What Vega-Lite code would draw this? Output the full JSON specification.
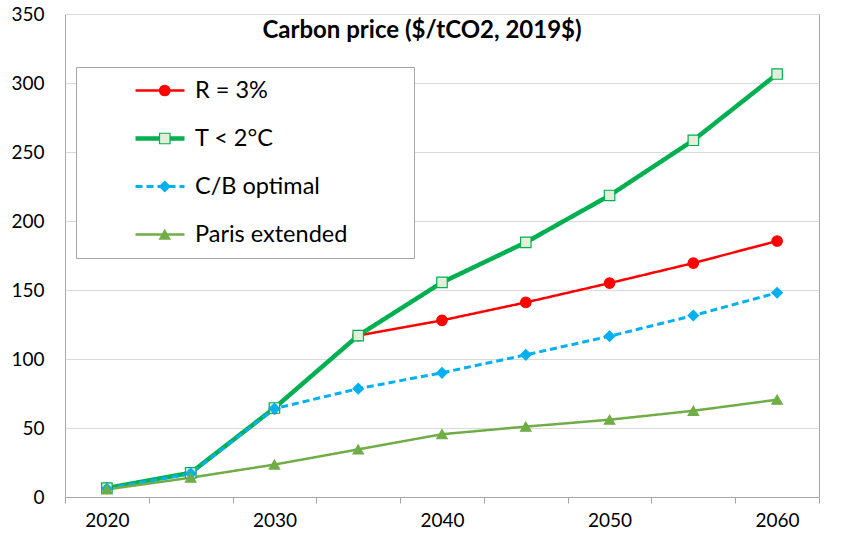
{
  "$schema": "https://vega.github.io/schema/vega-lite/v6.json",
  "width": 754,
  "height": 483,
  "autosize": "none",
  "padding": {"left": 65, "top": 14, "right": 25, "bottom": 45},
  "background": "white",
  "config": {
    "font": "Lato",
    "view": {"stroke": "#A6A6A6", "strokeWidth": 1},
    "axis": {"labelFont": "Lato", "labelFontSize": 19, "labelColor": "#000000"}
  },
  "title": {
    "text": "Carbon price ($/tCO2, 2019$)",
    "font": "Lato",
    "fontSize": 24,
    "fontWeight": "bold",
    "color": "#000000",
    "anchor": "middle",
    "offset": -25,
    "dx": -20,
    "dy": 32,
    "baseline": "alphabetic"
  },
  "data": {
    "values": [
      {"series": "R = 3%", "year": 2020, "price": 6.5},
      {"series": "R = 3%", "year": 2025, "price": 17.5},
      {"series": "R = 3%", "year": 2030, "price": 64},
      {"series": "R = 3%", "year": 2035, "price": 117},
      {"series": "R = 3%", "year": 2040, "price": 128},
      {"series": "R = 3%", "year": 2045, "price": 141},
      {"series": "R = 3%", "year": 2050, "price": 155},
      {"series": "R = 3%", "year": 2055, "price": 169.5},
      {"series": "R = 3%", "year": 2060, "price": 185.5},
      {"series": "T < 2°C", "year": 2020, "price": 6.5},
      {"series": "T < 2°C", "year": 2025, "price": 17.5},
      {"series": "T < 2°C", "year": 2030, "price": 64.5},
      {"series": "T < 2°C", "year": 2035, "price": 117},
      {"series": "T < 2°C", "year": 2040, "price": 155.5},
      {"series": "T < 2°C", "year": 2045, "price": 184.5},
      {"series": "T < 2°C", "year": 2050, "price": 218.5},
      {"series": "T < 2°C", "year": 2055, "price": 258.5},
      {"series": "T < 2°C", "year": 2060, "price": 306.5},
      {"series": "C/B optimal", "year": 2020, "price": 6},
      {"series": "C/B optimal", "year": 2025, "price": 17},
      {"series": "C/B optimal", "year": 2030, "price": 64},
      {"series": "C/B optimal", "year": 2035, "price": 78.5},
      {"series": "C/B optimal", "year": 2040, "price": 90},
      {"series": "C/B optimal", "year": 2045, "price": 103},
      {"series": "C/B optimal", "year": 2050, "price": 116.5},
      {"series": "C/B optimal", "year": 2055, "price": 131.5},
      {"series": "C/B optimal", "year": 2060, "price": 148},
      {"series": "Paris extended", "year": 2020, "price": 5.5},
      {"series": "Paris extended", "year": 2025, "price": 14},
      {"series": "Paris extended", "year": 2030, "price": 23.5},
      {"series": "Paris extended", "year": 2035, "price": 34.5},
      {"series": "Paris extended", "year": 2040, "price": 45.5},
      {"series": "Paris extended", "year": 2045, "price": 51},
      {"series": "Paris extended", "year": 2050, "price": 56},
      {"series": "Paris extended", "year": 2055, "price": 62.5},
      {"series": "Paris extended", "year": 2060, "price": 70.5}
    ]
  },
  "layer": [
    {
      "mark": {"type": "line"},
      "encoding": {
        "x": {
          "field": "year",
          "type": "ordinal",
          "scale": {"type": "band", "paddingInner": 0, "paddingOuter": 0},
          "axis": {
            "title": null,
            "labelAngle": 0,
            "tickBand": "extent",
            "grid": false,
            "domain": true,
            "domainColor": "#A6A6A6",
            "tickColor": "#A6A6A6",
            "tickSize": 6,
            "labelPadding": 8,
            "labelExpr": "datum.value % 10 == 0 ? datum.label : ''"
          }
        },
        "y": {
          "field": "price",
          "type": "quantitative",
          "scale": {"domain": [0, 350], "nice": false},
          "axis": {
            "title": null,
            "values": [0, 50, 100, 150, 200, 250, 300, 350],
            "grid": true,
            "gridColor": "#D9D9D9",
            "domain": false,
            "ticks": false,
            "labelPadding": 21
          }
        },
        "color": {
          "field": "series",
          "type": "nominal",
          "scale": {
            "domain": ["R = 3%", "T < 2°C", "C/B optimal", "Paris extended"],
            "range": ["#FF0000", "#00B050", "#00B0F0", "#70AD47"]
          },
          "legend": {
            "orient": "none",
            "legendX": 11,
            "legendY": 53,
            "title": null,
            "symbolType": "stroke",
            "symbolSize": 2401,
            "symbolOffset": 45,
            "labelOffset": 8,
            "labelFont": "Lato",
            "labelFontSize": 23.5,
            "labelColor": "#000000",
            "labelLimit": 400,
            "rowPadding": 24,
            "clipHeight": 23,
            "padding": 12,
            "strokeColor": "#A6A6A6",
            "fillColor": "white",
            "labelExpr": "datum.label + '\u2800\u2800\u2800'"
          }
        },
        "strokeDash": {
          "field": "series",
          "type": "nominal",
          "scale": {
            "domain": ["R = 3%", "T < 2°C", "C/B optimal", "Paris extended"],
            "range": [[1, 0], [1, 0], [7, 4], [1, 0]]
          }
        },
        "strokeWidth": {
          "field": "series",
          "type": "ordinal",
          "scale": {
            "type": "ordinal",
            "domain": ["R = 3%", "T < 2°C", "C/B optimal", "Paris extended"],
            "range": [2.5, 4.5, 3, 2.5]
          }
        }
      }
    },
    {
      "mark": {"type": "point", "filled": false, "opacity": 1, "strokeWidth": 1.2, "size": 110},
      "encoding": {
        "x": {"field": "year", "type": "ordinal"},
        "y": {"field": "price", "type": "quantitative"},
        "shape": {
          "field": "series",
          "type": "nominal",
          "scale": {
            "domain": ["R = 3%", "T < 2°C", "C/B optimal", "Paris extended"],
            "range": ["circle", "square", "diamond", "triangle-up"]
          },
          "legend": {
            "orient": "top-left",
            "offset": 65,
            "padding": 0,
            "title": null,
            "symbolOffset": 23,
            "symbolSize": 110,
            "symbolStrokeWidth": 1.2,
            "labelOffset": 8,
            "labelFont": "Lato",
            "labelFontSize": 23.5,
            "labelLimit": 400,
            "rowPadding": 24,
            "clipHeight": 23,
            "labelExpr": "''"
          }
        },
        "fill": {
          "field": "series",
          "type": "nominal",
          "scale": {
            "domain": ["R = 3%", "T < 2°C", "C/B optimal", "Paris extended"],
            "range": ["#FF0000", "#E2F0D9", "#00B0F0", "#70AD47"]
          }
        },
        "stroke": {
          "field": "series",
          "type": "nominal",
          "scale": {
            "domain": ["R = 3%", "T < 2°C", "C/B optimal", "Paris extended"],
            "range": ["#FF0000", "#00B050", "#00B0F0", "#70AD47"]
          }
        }
      }
    }
  ]
}
